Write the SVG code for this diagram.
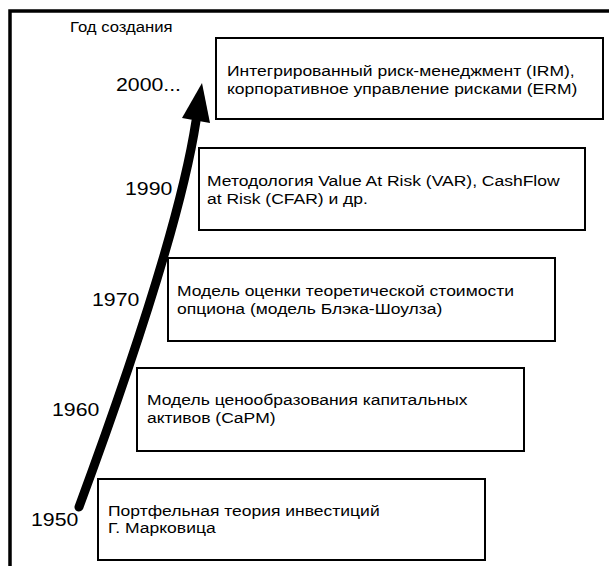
<svg xmlns="http://www.w3.org/2000/svg" width="609" height="566" viewBox="0 0 609 566">
<style>
.box{fill:#fff;stroke:#000;stroke-width:2}
.t{font-family:"Liberation Sans",Arial,sans-serif;font-size:15.5px;fill:#000}
.yr{font-family:"Liberation Sans",Arial,sans-serif;font-size:19px;fill:#000}
.cap{font-family:"Liberation Sans",Arial,sans-serif;font-size:14.5px;fill:#000}
</style>
<rect x="0" y="0" width="609" height="566" fill="#fff"/>
<rect id="frame" x="10" y="11" width="620" height="580" fill="none" stroke="#000" stroke-width="3.5"/>
<text class="cap" transform="matrix(1.15,0,0,1,70,32)">Год создания</text>
<g id="connectors">
<path d="M79,507 Q178,239 196,121" fill="none" stroke="#000" stroke-width="9" stroke-linecap="round"/>
<polygon points="202,83 182,118 210,123" fill="#000"/>
</g>
<g id="node-2000">
<text class="yr" transform="matrix(1.12,0,0,1,116,91)">2000...</text>
<rect class="box" x="216" y="38" width="387" height="81"/>
<text class="t" transform="matrix(1.13,0,0,1,227,76)"><tspan x="0">Интегрированный риск-менеджмент (IRM),</tspan><tspan x="0" dy="18">корпоративное управление рисками (ERM)</tspan></text>
</g>
<g id="node-1990">
<text class="yr" transform="matrix(1.12,0,0,1,125,195)">1990</text>
<rect class="box" x="199" y="148" width="386" height="82"/>
<text class="t" transform="matrix(1.13,0,0,1,207,186)"><tspan x="0">Методология Value At Risk (VAR), CashFlow</tspan><tspan x="0" dy="18">at Risk (CFAR) и др.</tspan></text>
</g>
<g id="node-1970">
<text class="yr" transform="matrix(1.12,0,0,1,92,306)">1970</text>
<rect class="box" x="168" y="258" width="387" height="83"/>
<text class="t" transform="matrix(1.13,0,0,1,177,296)"><tspan x="0">Модель оценки теоретической стоимости</tspan><tspan x="0" dy="18">опциона (модель Блэка-Шоулза)</tspan></text>
</g>
<g id="node-1960">
<text class="yr" transform="matrix(1.12,0,0,1,52,416)">1960</text>
<rect class="box" x="137" y="368" width="387" height="83"/>
<text class="t" transform="matrix(1.13,0,0,1,147,405)"><tspan x="0">Модель ценообразования капитальных</tspan><tspan x="0" dy="18">активов  (CaPM)</tspan></text>
</g>
<g id="node-1950">
<text class="yr" transform="matrix(1.12,0,0,1,31,526)">1950</text>
<rect class="box" x="98" y="479" width="387" height="81"/>
<text class="t" transform="matrix(1.13,0,0,1,108,516)"><tspan x="0">Портфельная теория инвестиций</tspan><tspan x="0" dy="17">Г. Марковица</tspan></text>
</g>
</svg>
